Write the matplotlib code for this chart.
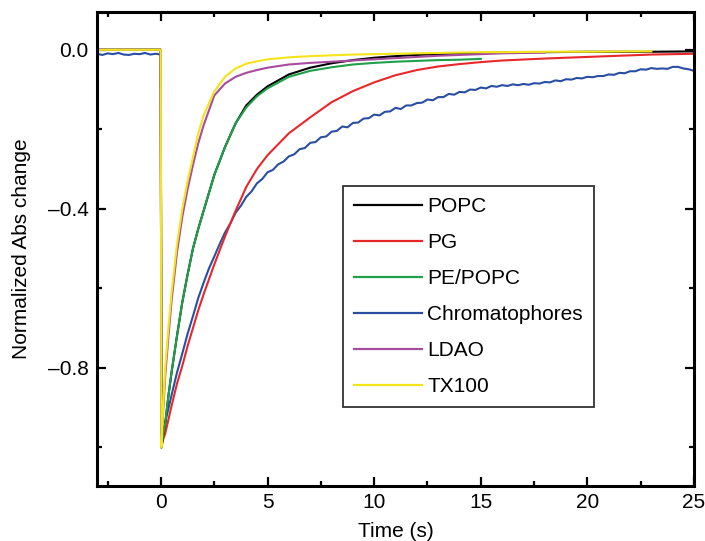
import numpy as np
import matplotlib
matplotlib.use("Agg")
import matplotlib.pyplot as plt
from matplotlib.ticker import MultipleLocator, FuncFormatter, FixedLocator

plt.rcParams['font.family'] = ['Liberation Sans', 'DejaVu Sans']

# ---------------- data ----------------
t_smooth = [-3, -0.01, 0.02, 0.1, 0.2, 0.35, 0.5, 0.75, 1.0, 1.25, 1.5, 1.75, 2.0, 2.5,
            3.0, 3.5, 4.0, 4.5, 5.0, 6.0, 7.0, 8.0, 9.0, 10, 11, 12, 13, 14, 15, 16, 18, 20, 22, 23, 25]

popc = [0, 0, -1.0, -0.97, -0.94, -0.87, -0.81, -0.72, -0.635, -0.565, -0.50, -0.45, -0.405, -0.315,
        -0.245, -0.185, -0.14, -0.113, -0.092, -0.062, -0.045, -0.034, -0.026, -0.020, -0.016, -0.013,
        -0.011, -0.009, -0.008, -0.007, -0.006, -0.005, -0.005, -0.005, -0.004]

pg = [0, 0, -1.0, -0.98, -0.965, -0.93, -0.895, -0.84, -0.795, -0.745, -0.70, -0.655, -0.615, -0.54,
      -0.47, -0.405, -0.345, -0.30, -0.265, -0.21, -0.17, -0.132, -0.104, -0.082, -0.064, -0.051,
      -0.042, -0.036, -0.031, -0.027, -0.022, -0.018, -0.014, -0.012, -0.010]

pe_popc = [0, 0, -1.0, -0.97, -0.94, -0.87, -0.81, -0.72, -0.635, -0.565, -0.50, -0.45, -0.405, -0.315,
           -0.245, -0.185, -0.145, -0.117, -0.097, -0.068, -0.053, -0.044, -0.037, -0.033, -0.030,
           -0.028, -0.026, -0.025, -0.023]

ldao = [0, 0, -1.0, -0.91, -0.82, -0.72, -0.63, -0.51, -0.42, -0.35, -0.29, -0.235, -0.19, -0.115,
        -0.085, -0.068, -0.058, -0.051, -0.045, -0.037, -0.033, -0.030, -0.027, -0.024, -0.021,
        -0.018, -0.015, -0.013, -0.011, -0.009, -0.007]

tx100 = [0, 0, -1.0, -0.90, -0.80, -0.70, -0.61, -0.49, -0.40, -0.33, -0.27, -0.21, -0.165, -0.105,
         -0.068, -0.047, -0.035, -0.029, -0.024, -0.019, -0.016, -0.014, -0.012, -0.011, -0.010,
         -0.009, -0.008, -0.007, -0.006, -0.006, -0.005, -0.005, -0.004, -0.004]

t_chrom = [-3.0, -2.75, -2.5, -2.25, -2.0, -1.75, -1.5, -1.25, -1.0, -0.75, -0.5, -0.25, -0.01,
           0.02, 0.25, 0.5, 0.75, 1.0, 1.25, 1.5, 1.75, 2.0, 2.25, 2.5, 2.75] + \
          [3.0 + 0.25 * i for i in range(89)]

chromatophores = [-0.010, -0.013, -0.009, -0.011, -0.008, -0.012, -0.013, -0.010, -0.011, -0.008, -0.012, -0.010, -0.012,
                  -0.99, -0.925, -0.868, -0.812, -0.764, -0.714, -0.670, -0.624, -0.586, -0.550, -0.520, -0.489,
                  -0.460, -0.437, -0.410, -0.392, -0.370, -0.356, -0.336, -0.325, -0.308, -0.302,
                  -0.288, -0.281, -0.268, -0.263, -0.250, -0.247, -0.234, -0.232, -0.220, -0.218,
                  -0.206, -0.204, -0.193, -0.195, -0.184, -0.183, -0.173, -0.172, -0.163, -0.165,
                  -0.156, -0.155, -0.146, -0.149, -0.140, -0.140, -0.134, -0.133, -0.125, -0.127,
                  -0.119, -0.119, -0.111, -0.113, -0.106, -0.107, -0.100, -0.101, -0.095, -0.097,
                  -0.091, -0.093, -0.089, -0.091, -0.087, -0.089, -0.086, -0.088, -0.084, -0.085,
                  -0.081, -0.082, -0.077, -0.079, -0.074, -0.075, -0.071, -0.072, -0.068, -0.069,
                  -0.066, -0.066, -0.062, -0.063, -0.058, -0.059, -0.054, -0.054, -0.049, -0.050,
                  -0.046, -0.048, -0.047, -0.048, -0.043, -0.043, -0.047, -0.049, -0.053]

labels = ["POPC", "PG", "PE/POPC", "Chromatophores", "LDAO", "TX100"]
colors = ["#000000", "#e8272b", "#1fa04a", "#2a4ea2", "#a64b9e", "#f4e41a"]

x_major = [0, 5, 10, 15, 20, 25]
y_major = [0.0, -0.4, -0.8]

# ---------------- figure ----------------
fig = plt.figure(figsize=(7.05, 5.41), dpi=100)
ax = fig.add_axes([97 / 705, 1 - 486 / 541, (694 - 97) / 705, (486 - 12) / 541])

series = {
    "POPC": (t_smooth[:len(popc)], popc),
    "PG": (t_smooth[:len(pg)], pg),
    "PE/POPC": (t_smooth[:len(pe_popc)], pe_popc),
    "Chromatophores": (t_chrom, chromatophores),
    "LDAO": (t_smooth[:len(ldao)], ldao),
    "TX100": (t_smooth[:len(tx100)], tx100),
}
draw_order = ["Chromatophores", "PG", "POPC", "PE/POPC", "LDAO", "TX100"]
handles = {}
for name in draw_order:
    tt, vv = series[name]
    c = colors[labels.index(name)]
    (h,) = ax.plot(tt, vv, color=c, lw=1.5, solid_joinstyle='round')
    handles[name] = h

ax.set_xlim(-3, 25)
ax.set_ylim(-1.097, 0.095)

ax.xaxis.set_major_locator(FixedLocator(x_major))
ax.xaxis.set_minor_locator(MultipleLocator(2.5))
ax.yaxis.set_major_locator(FixedLocator(y_major))
ax.yaxis.set_minor_locator(MultipleLocator(0.2))


def yfmt(v, p):
    if abs(v) < 1e-9:
        return "0.0"
    return ("–%.1f" % abs(v)) if v < 0 else ("%.1f" % v)


ax.yaxis.set_major_formatter(FuncFormatter(yfmt))
ax.xaxis.set_major_formatter(FuncFormatter(lambda v, p: "%d" % v))

ax.tick_params(which='both', direction='in', top=True, right=True, width=1.6, labelsize=15)
ax.tick_params(axis='y', pad=6)
ax.tick_params(axis='x', pad=5)
ax.tick_params(which='major', length=6.5)
ax.tick_params(which='minor', length=3.5)
for s in ax.spines.values():
    s.set_linewidth(2.2)

ax.set_xlabel("Time (s)", fontsize=15, labelpad=7)
ax.set_ylabel("Normalized Abs change", fontsize=15, labelpad=12)

leg = ax.legend([handles[n] for n in labels], labels, loc='upper left',
                bbox_to_anchor=(343 / 705, 1 - 186 / 541), bbox_transform=fig.transFigure,
                borderaxespad=0, fontsize=15, handlelength=3.25, handletextpad=0.28,
                labelspacing=0.82, borderpad=0.52, fancybox=False, frameon=True)
leg.get_frame().set_edgecolor('black')
leg.get_frame().set_linewidth(1.3)
for l in leg.get_lines():
    l.set_linewidth(1.6)

fig.savefig("out.png", dpi=100)
